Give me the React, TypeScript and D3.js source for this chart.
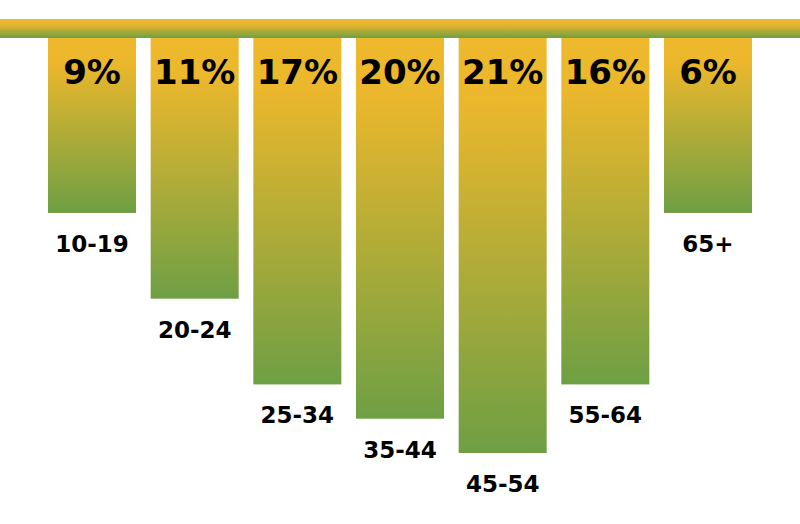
import React from "react";
import * as d3 from "d3";

const categories = ["10-19", "20-24", "25-34", "35-44", "45-54", "55-64", "65+"];
const percentLabels = ["9%", "11%", "17%", "20%", "21%", "16%", "6%"];
// relative hanging depth of each bar, as drawn in the infographic
const barDepth = [5, 7.5, 10, 11, 12, 10, 5];

const W = 800;
const H = 524;
const GOLD = "#EEB92B";
const GREEN = "#6E9F44";

export default function App() {
  const x = d3
    .scaleBand<string>()
    .domain(categories)
    .range([48, 752])
    .paddingInner(0.1429)
    .paddingOuter(0);
  const y = d3.scaleLinear().domain([0, 12]).range([41.5, 453]);
  const top = 38;
  const font = "'DejaVu Sans', Verdana, sans-serif";

  return (
    <svg
      width={W}
      height={H}
      style={{ position: "absolute", left: 0, top: 0, background: "#fff" }}
    >
      <defs>
        <linearGradient id="barGrad" x1="0" y1="0" x2="0" y2="1">
          <stop offset="0" stopColor={GOLD} />
          <stop offset="0.15" stopColor="#EBB72C" />
          <stop offset="1" stopColor={GREEN} />
        </linearGradient>
        <linearGradient id="bandGrad" x1="0" y1="0" x2="0" y2="1">
          <stop offset="0" stopColor="#EFBA2E" />
          <stop offset="0.35" stopColor="#E2B42E" />
          <stop offset="1" stopColor="#6E9F44" />
        </linearGradient>
      </defs>
      {categories.map((c, i) => {
        const x0 = x(c)!;
        const bw = x.bandwidth();
        const yb = y(barDepth[i]);
        return (
          <g key={c}>
            <rect x={x0} y={top} width={bw} height={yb - top} fill="url(#barGrad)" />
            <text
              x={x0 + bw / 2}
              y={84}
              textAnchor="middle"
              fontFamily={font}
              fontWeight="bold"
              fontSize={34}
              fill="#000"
            >
              {percentLabels[i]}
            </text>
            <text
              x={x0 + bw / 2}
              y={yb + 39}
              textAnchor="middle"
              fontFamily={font}
              fontWeight="bold"
              fontSize={23}
              fill="#000"
            >
              {c}
            </text>
          </g>
        );
      })}
      <rect x={0} y={19} width={W} height={19} fill="url(#bandGrad)" />
    </svg>
  );
}
